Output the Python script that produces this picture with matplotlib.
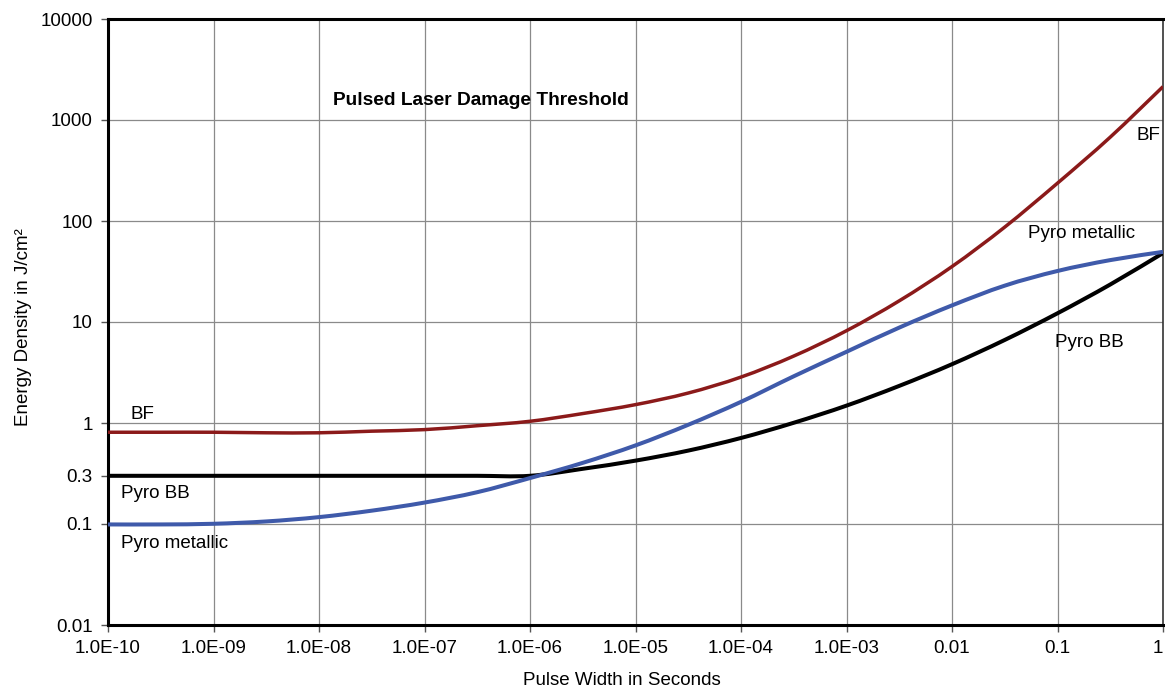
import matplotlib
matplotlib.use("Agg")
import numpy as np
import matplotlib.pyplot as plt
from matplotlib.path import Path
from matplotlib.patches import PathPatch
from matplotlib.ticker import FixedLocator, FixedFormatter, NullLocator

plt.rcParams['font.family'] = ['Liberation Sans', 'DejaVu Sans']

# Pulse widths (seconds), half-decade steps from 1e-10 to 1
pulse_width = [1.0e-10, 3.16e-10, 1.0e-9, 3.16e-9, 1.0e-8, 3.16e-8, 1.0e-7, 3.16e-7,
               1.0e-6, 3.16e-6, 1.0e-5, 3.16e-5, 1.0e-4, 3.16e-4, 1.0e-3, 3.16e-3,
               1.0e-2, 3.16e-2, 1.0e-1, 3.16e-1, 1.0]

# Energy density thresholds (J/cm^2)
bf = [0.81, 0.81, 0.81, 0.80, 0.80, 0.83, 0.86, 0.94, 1.04, 1.24, 1.52, 1.98, 2.85,
      4.6, 8.2, 16.2, 35.4, 87.0, 237.0, 676.0, 2140.0]
pyro_metallic = [0.099, 0.099, 0.1005, 0.106, 0.117, 0.1355, 0.163, 0.2065, 0.285, 0.403,
                 0.60, 0.96, 1.62, 2.9, 5.07, 8.8, 14.6, 22.9, 32.0, 41.0, 49.5]
pyro_bb = [0.30, 0.30, 0.30, 0.30, 0.30, 0.30, 0.30, 0.30, 0.30, 0.352, 0.424, 0.533,
           0.711, 1.005, 1.486, 2.33, 3.82, 6.64, 12.2, 23.5, 48.1]

x_ticks = [1e-10, 1e-9, 1e-8, 1e-7, 1e-6, 1e-5, 1e-4, 1e-3, 1e-2, 1e-1, 1.0]
x_tick_labels = ["1.0E-10", "1.0E-09", "1.0E-08", "1.0E-07", "1.0E-06", "1.0E-05",
                 "1.0E-04", "1.0E-03", "0.01", "0.1", "1"]
y_ticks = [0.01, 0.1, 0.3, 1, 10, 100, 1000, 10000]
y_tick_labels = ["0.01", "0.1", "0.3", "1", "10", "100", "1000", "10000"]
y_grid = [0.1, 1, 10, 100, 1000]


def smooth_path(xs, ys):
    """Smoothed (Catmull-Rom style Bezier) line through the points, in log-log space."""
    P = np.column_stack([np.log10(xs), np.log10(ys)])
    n = len(P)
    verts = [P[0]]
    codes = [Path.MOVETO]
    for i in range(n - 1):
        p0 = P[i - 1] if i > 0 else P[i]
        p1 = P[i]
        p2 = P[i + 1]
        p3 = P[i + 2] if i + 2 < n else P[i + 1]
        verts += [p1 + (p2 - p0) / 6.0, p2 - (p3 - p1) / 6.0, p2]
        codes += [Path.CURVE4] * 3
    return Path(10 ** np.array(verts), codes)


fig = plt.figure(figsize=(11.65, 6.95), dpi=100)
ax = fig.add_axes([108 / 1165, 1 - 625 / 695, (1163 - 108) / 1165, (625 - 19) / 695])
ax.set_xscale('log')
ax.set_yscale('log')
ax.set_xlim(1e-10, 1.0)
ax.set_ylim(0.01, 10000)

# grid
for xv in x_ticks[1:-1]:
    ax.axvline(xv, color='#8a8a8a', lw=0.9, zorder=1)
for yv in y_grid:
    ax.axhline(yv, color='#8a8a8a', lw=0.9, zorder=1)

for ys, col, lw, z in [(pyro_bb, 'black', 2.9, 3),
                       (pyro_metallic, '#3f5aaa', 2.9, 4),
                       (bf, '#8b1a1a', 2.5, 5)]:
    ax.add_patch(PathPatch(smooth_path(pulse_width, ys), fill=False, edgecolor=col,
                           lw=lw, zorder=z, capstyle='butt'))

ax.xaxis.set_major_locator(FixedLocator(x_ticks))
ax.xaxis.set_major_formatter(FixedFormatter(x_tick_labels))
ax.xaxis.set_minor_locator(NullLocator())
ax.yaxis.set_major_locator(FixedLocator(y_ticks))
ax.yaxis.set_major_formatter(FixedFormatter(y_tick_labels))
ax.yaxis.set_minor_locator(NullLocator())
ax.tick_params(axis='both', direction='out', length=5, width=1, color='#555555',
               labelsize=13.5, pad=6)

fig.canvas.draw()
ax.get_xticklabels()[-1].set_horizontalalignment('right')
ax.get_xticklabels()[-1].set_x(1.0)

for side in ['left', 'bottom', 'top']:
    ax.spines[side].set_linewidth(2.2)
    ax.spines[side].set_color('black')
ax.spines['right'].set_linewidth(1.2)
ax.spines['right'].set_color('#333333')

ax.set_xlabel("Pulse Width in Seconds", fontsize=13.5)
ax.set_ylabel("Energy Density in J/cm²", fontsize=13.5)
ax.xaxis.set_label_coords(0.487, -0.0775)
ax.yaxis.set_label_coords(-0.072, 0.492)

fs = 13.5
ax.text(1.62e-10, 1.21, "BF", fontsize=fs, ha='left', va='center')
ax.text(1.32e-10, 0.20, "Pyro BB", fontsize=fs, ha='left', va='center')
ax.text(1.32e-10, 0.064, "Pyro metallic", fontsize=fs, ha='left', va='center')
ax.text(0.555, 708, "BF", fontsize=fs, ha='left', va='center')
ax.text(0.052, 76, "Pyro metallic", fontsize=fs, ha='left', va='center')
ax.text(0.0946, 6.27, "Pyro BB", fontsize=fs, ha='left', va='center')
ax.text(1.35e-8, 1577, "Pulsed Laser Damage Threshold", fontsize=13.8,
        fontweight='bold', ha='left', va='center')

fig.savefig("out.png", dpi=100)
